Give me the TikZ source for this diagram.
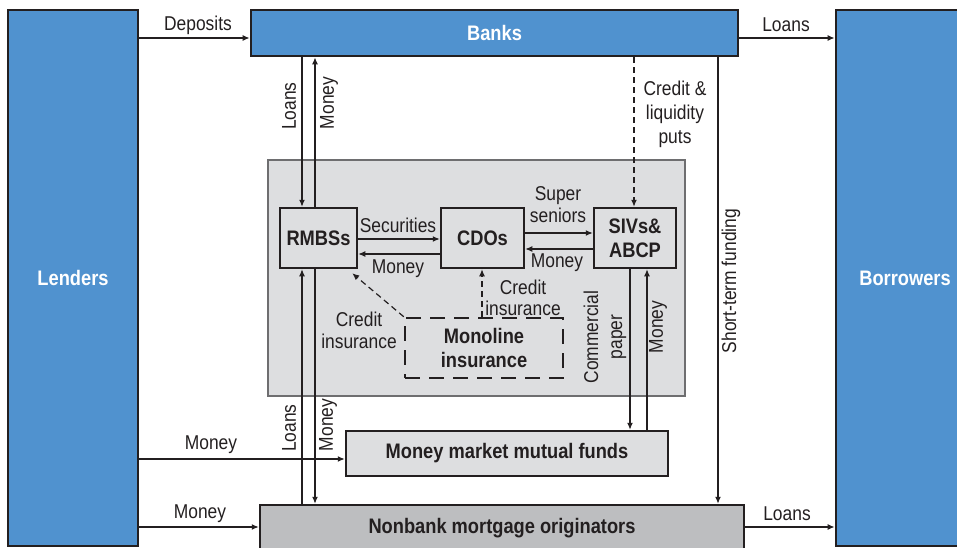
\documentclass[tikz,border=0pt]{standalone}
\usepackage{fontspec}
\setmainfont{Liberation Sans}[FakeStretch=0.87]
\usetikzlibrary{arrows.meta}
\definecolor{imfblue}{RGB}{80,146,207}
\definecolor{boxline}{RGB}{35,31,32}
\definecolor{lightfill}{RGB}{221,222,224}
\definecolor{midfill}{RGB}{189,190,192}
\definecolor{panelline}{RGB}{110,110,112}
\begin{document}
\begin{tikzpicture}[x=1pt,y=-1pt,
 every node/.style={inner sep=0pt, font=\fontsize{20}{24}\selectfont},
 bluebox/.style={draw=boxline, line width=2.8pt, fill=imfblue, text=white, font=\fontsize{21}{23}\selectfont\bfseries},
 graybox/.style={draw=boxline, line width=2.5pt, text=boxline, font=\fontsize{21}{24}\selectfont\bfseries, align=center},
 flow/.style={draw=boxline, line width=1.2pt, -{Latex[length=7pt,width=6pt]}},
 dflow/.style={flow, dash pattern=on 6pt off 4pt},
 lab/.style={text=boxline, align=center},
]
\clip (0,0) rectangle (957,548);
% boxes
\node[bluebox, minimum width=130pt, minimum height=536pt] (lenders) at (73,278) {Lenders};
\node[bluebox, minimum width=134pt, minimum height=536pt] (borrowers) at (903,278) {};
\node[text=white, font=\fontsize{21}{23}\selectfont\bfseries] (borrowersT) at (905,278) {Borrowers};
\node[bluebox, minimum width=487pt, minimum height=46pt] (banks) at (494.5,33) {Banks};
\node[draw=panelline, line width=1.8pt, fill=lightfill, minimum width=417pt, minimum height=236pt] (panel) at (476.5,278) {};
\node[graybox, minimum width=77pt, minimum height=60pt] (rmbs) at (318.5,238) {RMBSs};
\node[graybox, minimum width=83pt, minimum height=60pt] (cdo) at (482.5,238) {CDOs};
\node[graybox, minimum width=82pt, minimum height=60pt] (siv) at (635,238) {SIVs\&\\ABCP};
\node[graybox, dash pattern=on 15pt off 9pt, minimum width=158pt, minimum height=60pt] (mono) at (484,348) {Monoline\\insurance};
\node[graybox, fill=lightfill, minimum width=322pt, minimum height=45pt] (mmmf) at (507,453.5) {Money market mutual funds};
\node[graybox, fill=midfill, minimum width=484pt, minimum height=46pt] (nonbank) at (502,528) {Nonbank mortgage originators};
% helper coordinates
\coordinate (xL) at (302,0);
\coordinate (xM) at (315,0);
\coordinate (xP) at (634,0);
\coordinate (xS) at (718,0);
\coordinate (xC) at (630,0);
\coordinate (xN) at (647,0);
\coordinate (xI) at (482,0);
\coordinate (yDep) at (0,38);
\coordinate (ySec) at (0,239);
\coordinate (yMon) at (0,254);
\coordinate (ySup) at (0,233);
\coordinate (yMonB) at (0,249);
\coordinate (yMM) at (0,459);
\coordinate (yNB) at (0,527);
% connectors
\draw[flow] (lenders.east |- yDep) -- (banks.west |- yDep);
\draw[flow] (banks.east |- yDep) -- (borrowers.west |- yDep);
\draw[flow] (banks.south -| xL) -- (rmbs.north -| xL);
\draw[flow] (rmbs.north -| xM) -- (banks.south -| xM);
\draw[dflow] (banks.south -| xP) -- (siv.north -| xP);
\draw[flow] (banks.south -| xS) -- (nonbank.north -| xS);
\draw[flow] (rmbs.east |- ySec) -- (cdo.west |- ySec);
\draw[flow] (cdo.west |- yMon) -- (rmbs.east |- yMon);
\draw[flow] (cdo.east |- ySup) -- (siv.west |- ySup);
\draw[flow] (siv.west |- yMonB) -- (cdo.east |- yMonB);
\draw[dflow] (mono.north west) -- ([xshift=-6pt,yshift=-4pt]rmbs.south east);
\draw[dflow] (mono.north -| xI) -- (cdo.south -| xI);
\draw[flow] (siv.south -| xC) -- (mmmf.north -| xC);
\draw[flow] (mmmf.north -| xN) -- (siv.south -| xN);
\draw[flow] (nonbank.north -| xL) -- (rmbs.south -| xL);
\draw[flow] (rmbs.south -| xM) -- (nonbank.north -| xM);
\draw[flow] (lenders.east |- yMM) -- (mmmf.west |- yMM);
\draw[flow] (lenders.east |- yNB) -- (nonbank.west |- yNB);
\draw[flow] (nonbank.east |- yNB) -- (borrowers.west |- yNB);
% labels
\node[lab] (tDep) at (198,25) {Deposits};
\node[lab] (tLoansTop) at (786,25) {Loans};
\node[lab, rotate=90] (tLoansUp) at (289,106) {Loans};
\node[lab, rotate=90] (tMoneyUp) at (329,103) {Money};
\node[lab] (tPuts) at (675,114) {Credit \&\\liquidity\\puts};
\node[lab, rotate=90] (tShort) at (731,281) {Short-term funding};
\node[lab] (tSec) at (398,225) {Securities};
\node[lab] (tMonA) at (398,269) {Money};
\node[lab, font=\fontsize{20}{22}\selectfont] (tSup) at (558,205) {Super\\seniors};
\node[lab] (tMonB) at (557,263) {Money};
\node[lab, font=\fontsize{20}{21}\selectfont] (tCI1) at (523,298) {Credit\\insurance};
\node[lab, font=\fontsize{20}{22}\selectfont] (tCI2) at (359,330) {Credit\\insurance};
\node[lab, rotate=90] (tCP) at (605,337) {Commercial\\paper};
\node[lab, rotate=90] (tMonC) at (658,327) {Money};
\node[lab, rotate=90] (tLoansLo) at (289,428) {Loans};
\node[lab, rotate=90] (tMonLo) at (328,425) {Money};
\node[lab] (tMonMM) at (211,445) {Money};
\node[lab] (tMonNB) at (200,514) {Money};
\node[lab] (tLoansBot) at (787,514) {Loans};
\end{tikzpicture}
\end{document}
